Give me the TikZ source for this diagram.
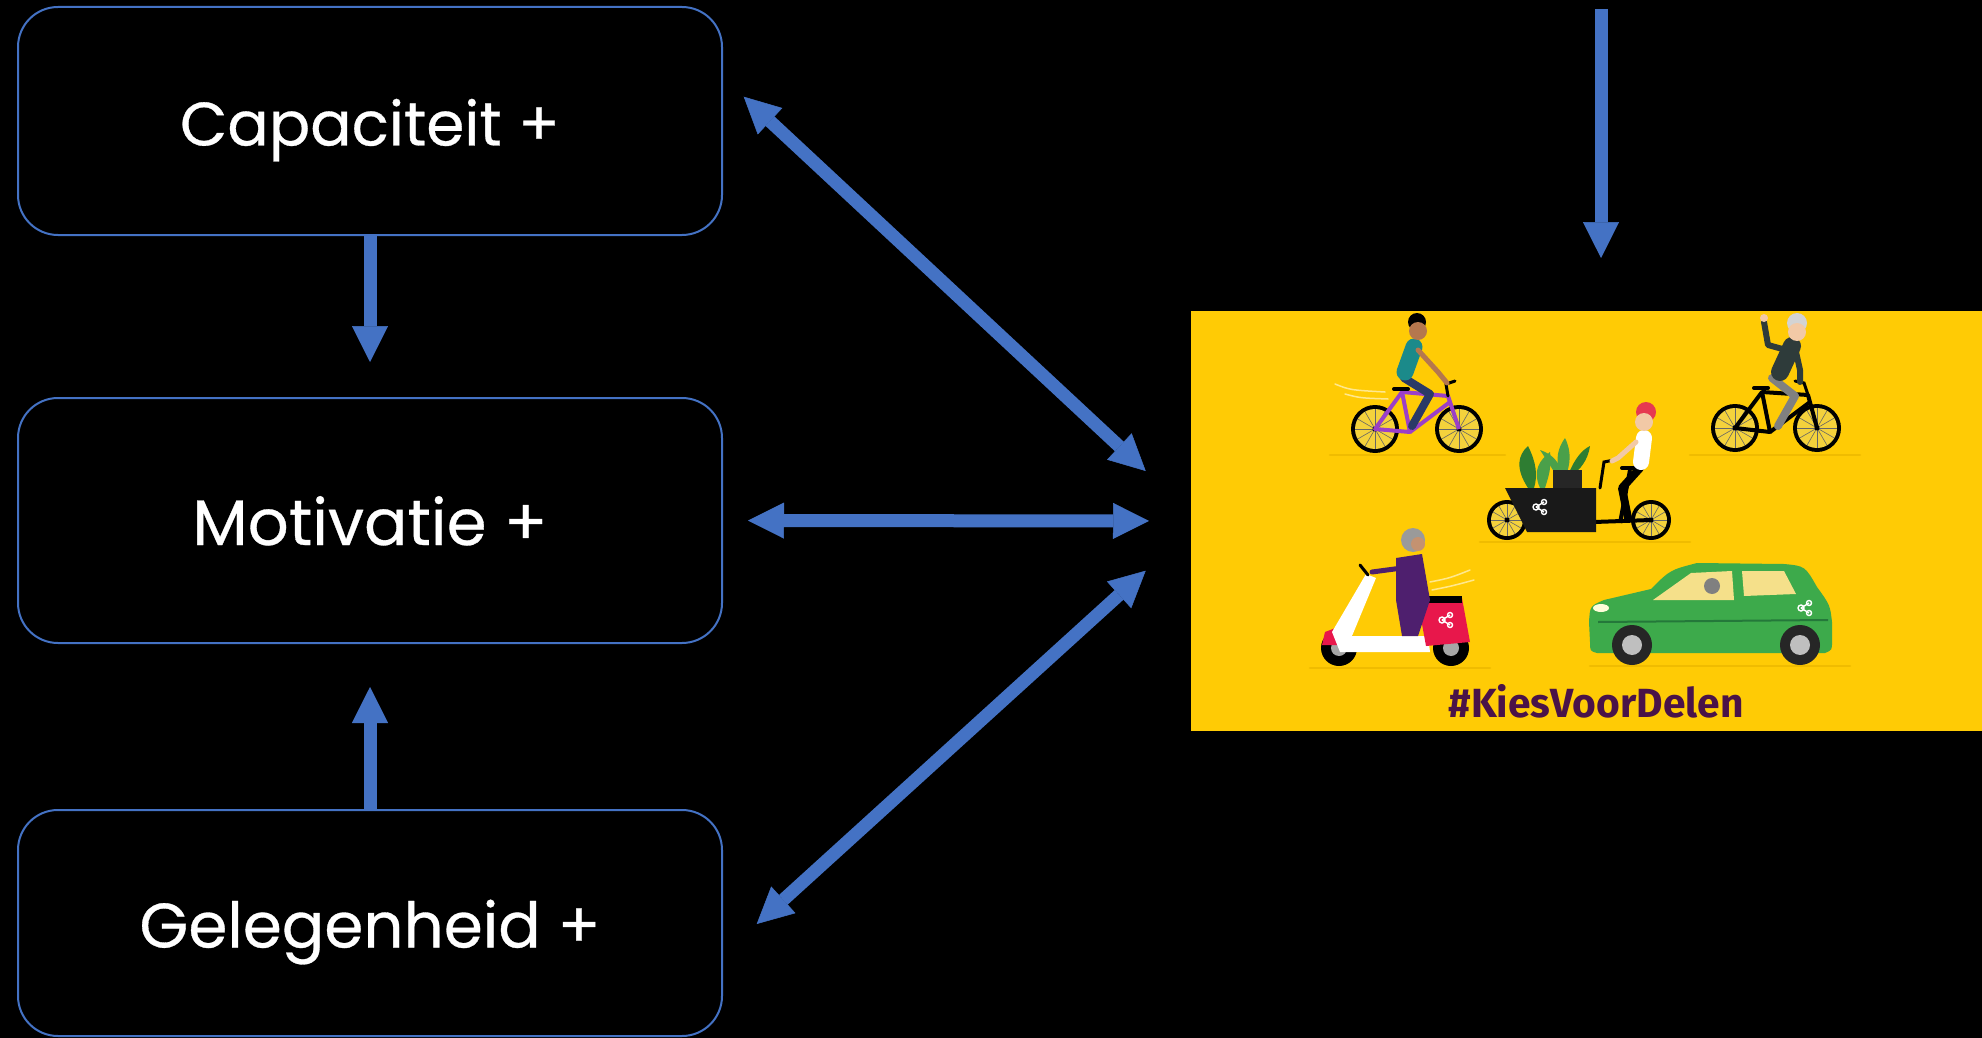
\documentclass[tikz,border=0pt]{standalone}
\usepackage{fontspec}
\setmainfont{Poppins}
\newfontfamily\boxfont{Poppins}[FakeBold=0.5]
\newfontfamily\kiesfont{Fira Sans}
\usetikzlibrary{arrows.meta}
\definecolor{arrowblue}{HTML}{4472C4}
\definecolor{kyellow}{HTML}{FFCB05}
\definecolor{kshadow}{HTML}{F0BC00}
\definecolor{rimyellow}{HTML}{F4D23C}
\definecolor{kiespurple}{HTML}{4A1348}
\definecolor{bikepurple}{HTML}{9B3FC8}
\definecolor{shirtteal}{HTML}{1B8A8A}
\definecolor{jeansnavy}{HTML}{2B3A67}
\definecolor{skinbrown}{HTML}{B5774E}
\definecolor{skinlight}{HTML}{F2C9A6}
\definecolor{suitdark}{HTML}{2E3B3A}
\definecolor{hairgray}{HTML}{D3D3D3}
\definecolor{hairred}{HTML}{E63950}
\definecolor{leafgreen}{HTML}{4AA04A}
\definecolor{leafdark}{HTML}{2E7D32}
\definecolor{scootred}{HTML}{E8174B}
\definecolor{riderpurple}{HTML}{4E1F6E}
\definecolor{hijabgray}{HTML}{9A9A9A}
\definecolor{cargreen}{HTML}{3DAA4B}
\definecolor{cardark}{HTML}{24783A}
\definecolor{winyellow}{HTML}{F5E08A}
\newcommand{\bikewheel}[4]{%
  \fill[black] (#1,#2) circle[radius=#3];
  \fill[rimyellow] (#1,#2) circle[radius=#4];
  \foreach \a in {0,30,...,330} \draw[black!60, line width=0.6pt] (#1,#2) -- ++(\a:#4);
  \fill[black] (#1,#2) circle[radius=2.5];
}
\newcommand{\shareicon}[2]{%
  \draw[white, line width=1.4pt] (#1-4,#2) -- (#1+4,#2-5) (#1-4,#2) -- (#1+4,#2+5);
  \draw[white, line width=1.4pt] (#1-4,#2) circle[radius=3] (#1+4,#2-5) circle[radius=2.5] (#1+4,#2+5) circle[radius=2.5];
}
\begin{document}
\begin{tikzpicture}[x=1pt,y=-1pt]
\tikzset{
  box/.style={draw=arrowblue, line width=2pt, rounded corners=40pt,
    minimum width=704pt, inner sep=0pt, text=white,
    text height=49pt, text depth=0pt, font=\boxfont},
  conn/.style={draw=arrowblue, line width=13pt, -{Triangle[length=36pt,width=36pt,line width=0.5pt]}},
  conn2/.style={draw=arrowblue, line width=13pt, {Triangle[length=36pt,width=36pt,line width=0.5pt]}-{Triangle[length=36pt,width=36pt,line width=0.5pt]}},
  shadowline/.style={draw=kshadow, line width=2.5pt, line cap=round},
  swoosh/.style={draw=white!55!kyellow, line width=1.5pt, line cap=round}
}
\path[fill=black] (0,0) rectangle (1982,1038);

% boxes
\node[box, minimum height=228pt] (cap) at (370,121) {\resizebox{380pt}{!}{Capaciteit +}};
\node[box, minimum height=245pt] (mot) at (370,520.5) {\resizebox{355pt}{!}{Motivatie +}};
\node[box, minimum height=226pt] (gel) at (370,923) {\resizebox{461pt}{!}{Gelegenheid +}};

% image panel
\node[fill=kyellow, draw=none, minimum width=791pt, minimum height=420pt, inner sep=0pt, outer sep=0pt] (img) at (1586.5,521) {};

% ground shadows
\draw[shadowline] (1330,455) -- (1505,455);
\draw[shadowline] (1690,455) -- (1860,455);
\draw[shadowline] (1480,542) -- (1690,542);
\draw[shadowline] (1310,668) -- (1490,668);
\draw[shadowline] (1590,666) -- (1850,666);

% bike 1 (boy, purple bike)
\draw[swoosh] (1335,384) .. controls (1350,390) .. (1385,392);
\draw[swoosh] (1345,394) .. controls (1360,398) .. (1388,399);
\bikewheel{1375}{429}{24}{20}
\bikewheel{1459}{429}{24}{20}
\draw[bikepurple, line width=4pt, line join=round] (1375,429) -- (1410,432) -- (1402,392) -- cycle;
\draw[bikepurple, line width=4pt, line join=round] (1402,392) -- (1448,396) -- (1459,429);
\draw[bikepurple, line width=4pt] (1410,432) -- (1450,402);
\draw[black, line width=3pt, line cap=round] (1448,396) -- (1446,384) -- (1455,381);
\draw[black, line width=4pt, line cap=round] (1394,389) -- (1408,389);
\draw[jeansnavy, line width=8pt, line cap=round, line join=round] (1404,378) -- (1430,394) -- (1412,426);
\draw[shirtteal, line width=17pt, line cap=round] (1405,372) -- (1414,347);
\draw[skinbrown, line width=5pt, line cap=round, line join=round] (1418,350) -- (1438,372) -- (1447,383);
\fill[black] (1417,322) circle[radius=9];
\fill[skinbrown] (1418,331) circle[radius=9];

% bike 2 (old man, black bike)
\bikewheel{1735}{428}{24}{20}
\bikewheel{1817}{428}{24}{20}
\draw[black, line width=4pt, line join=round] (1735,428) -- (1770,432) -- (1762,392) -- cycle;
\draw[black, line width=4pt, line join=round] (1762,392) -- (1808,395) -- (1817,428);
\draw[black, line width=4pt] (1770,432) -- (1810,402);
\draw[black, line width=3pt, line cap=round] (1808,395) -- (1804,383) -- (1795,381);
\draw[black, line width=4pt, line cap=round] (1754,388) -- (1768,388);
\draw[gray, line width=8pt, line cap=round, line join=round] (1772,378) -- (1795,396) -- (1778,426);
\draw[suitdark, line width=18pt, line cap=round] (1780,372) -- (1792,346);
\draw[suitdark, line width=6pt, line cap=round, line join=round] (1786,350) -- (1768,345) -- (1764,322);
\fill[skinlight] (1764,318) circle[radius=4];
\draw[suitdark, line width=6pt, line cap=round, line join=round] (1796,352) -- (1800,370) -- (1800,382);
\fill[hairgray] (1797,323) circle[radius=10];
\fill[skinlight] (1797,332) circle[radius=9];

% cargo bike
\bikewheel{1507}{520}{20}{16}
\bikewheel{1651}{520}{20}{16}
\draw[black, line width=4pt, line join=round] (1594,522) -- (1651,520) (1620,523) -- (1630,470);
\draw[black, line width=4pt, line cap=round] (1622,468) -- (1638,468);
\draw[black, line width=3pt, line cap=round] (1600,488) -- (1604,462) -- (1614,460);
\fill[leafdark] (1528,488) .. controls (1515,468) and (1518,455) .. (1528,446) .. controls (1536,462) and (1538,475) .. (1534,488) -- cycle;
\fill[leafgreen] (1540,488) .. controls (1532,470) and (1540,460) .. (1550,452) .. controls (1552,468) and (1548,478) .. (1545,488) -- cycle;
\fill[leafgreen] (1560,475) .. controls (1555,458) and (1558,448) .. (1565,438) .. controls (1572,452) and (1570,465) .. (1566,475) -- cycle;
\fill[leafdark] (1568,475) .. controls (1575,458) and (1582,450) .. (1590,446) .. controls (1588,460) and (1580,470) .. (1572,475) -- cycle;
\fill[leafgreen] (1556,475) .. controls (1548,462) and (1544,456) .. (1540,450) .. controls (1552,454) and (1560,462) .. (1562,475) -- cycle;
\fill[black!85] (1553,470) rectangle (1582,488);
\fill[black!90] (1505,488) -- (1596,488) -- (1596,532) -- (1527,532) -- cycle;
\shareicon{1540}{507}
\draw[black, line width=8pt, line cap=round, line join=round] (1640,468) -- (1622,488) -- (1628,518);
\draw[white, line width=16pt, line cap=round] (1641,462) -- (1644,438);
\draw[skinlight, line width=5pt, line cap=round, line join=round] (1636,442) -- (1618,458) -- (1612,461);
\fill[hairred] (1646,412) circle[radius=10];
\fill[skinlight] (1644,422) circle[radius=9];

% scooter
\fill[black] (1339,648) circle[radius=18];
\fill[gray!70] (1339,648) circle[radius=8];
\fill[black] (1451,648) circle[radius=18];
\fill[gray!70] (1451,648) circle[radius=8];
\fill[scootred] (1322,645) -- (1325,632) -- (1346,624) -- (1342,645) -- cycle;
\fill[white] (1332,632) -- (1366,574) -- (1376,578) -- (1352,636) -- (1428,636) -- (1430,652) -- (1340,652) -- cycle;
\fill[scootred] (1418,602) -- (1462,598) -- (1470,642) -- (1426,646) -- cycle;
\shareicon{1446}{620}
\fill[black] (1410,596) rectangle (1462,603);
\draw[black, line width=3pt, line cap=round] (1368,575) -- (1360,565);
\draw[swoosh] (1430,582) .. controls (1450,578) .. (1470,570);
\draw[swoosh] (1432,590) .. controls (1452,586) .. (1474,580);
\fill[riderpurple] (1396,558) -- (1422,554) -- (1430,600) -- (1418,636) -- (1402,636) -- (1396,600) -- cycle;
\draw[riderpurple, line width=5pt, line cap=round] (1402,568) -- (1372,572);
\fill[hijabgray] (1413,540) circle[radius=12];
\fill[skinbrown!80!white] (1418,544) circle[radius=7];

% car
\fill[cargreen] (1590,642) -- (1589,622) .. controls (1590,606) .. (1604,600) -- (1651,589) .. controls (1670,570) .. (1697,563) -- (1784,564) .. controls (1805,566) .. (1817,587) .. controls (1830,605) .. (1832,622) -- (1832,642) .. controls (1832,650) .. (1825,653) -- (1597,653) .. controls (1590,651) .. (1590,642) -- cycle;
\fill[winyellow] (1653,600) -- (1691,573) -- (1732,571) -- (1734,600) -- cycle;
\fill[winyellow] (1742,571) -- (1784,571) -- (1796,594) -- (1744,596) -- cycle;
\fill[gray] (1712,586) circle[radius=8];
\draw[cardark, line width=2pt] (1598,622) -- (1828,620);
\fill[white!85!yellow] (1601,608) ellipse[x radius=8, y radius=4];
\shareicon{1805}{608}
\fill[black!85] (1632,645) circle[radius=20];
\fill[gray!50] (1632,645) circle[radius=10];
\fill[black!85] (1800,645) circle[radius=20];
\fill[gray!50] (1800,645) circle[radius=10];

% caption
\node[text=kiespurple, inner sep=0pt] (kies) at (1596,701) {\resizebox{295pt}{!}{\kiesfont\bfseries\#KiesVoorDelen}};

% connectors
\coordinate (src) at (1601,9);
\draw[conn, shorten >=35pt] (cap.south) -- (mot.north);
\draw[conn, shorten >=43pt] (gel.north) -- (mot.south);
\draw[conn, shorten >=53pt] (src) -- (src |- img.north);
\draw[conn2] ([xshift=20.7pt,yshift=24.3pt]cap.east) -- ([xshift=-45.3pt,yshift=50pt]img.west);
\draw[conn2, shorten <=25pt, shorten >=42pt] (mot.east) -- (img.west);
\draw[conn2] ([xshift=33.7pt,yshift=-1pt]gel.east) -- ([xshift=-45.3pt,yshift=-49.7pt]img.west);
\end{tikzpicture}
\end{document}
